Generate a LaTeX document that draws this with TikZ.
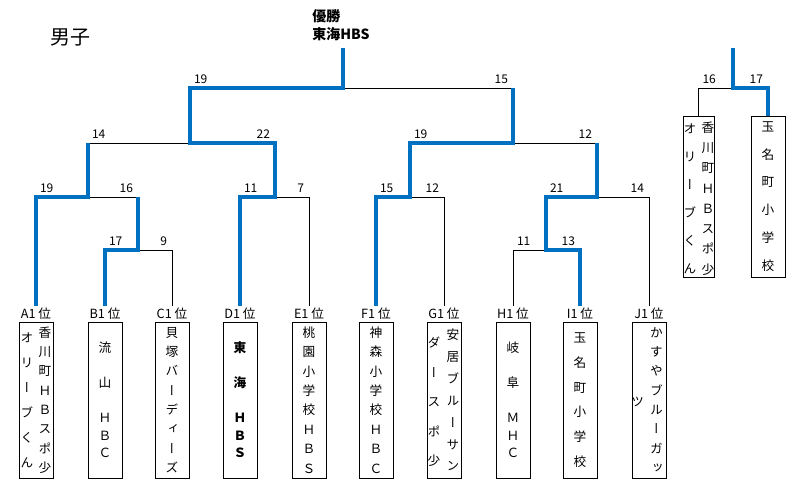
\documentclass[tikz,border=0pt]{standalone}
\usepackage{fontspec}
\setmainfont{Noto Sans CJK JP}
\newfontfamily\tatefont[RawFeature=+vert]{Noto Sans CJK JP}
\usetikzlibrary{positioning}

\definecolor{winblue}{RGB}{0,112,192}

\tikzset{
  win/.style={draw=winblue,line width=2.4pt},
  lose/.style={draw=black,line width=0.75pt},
  team/.style={draw,line width=0.75pt,inner sep=0pt,
    minimum width=25.5pt,minimum height=117pt},
  seed/.style={font=\fontsize{9.5}{9.5}\selectfont,inner sep=1pt},
  score/.style={font=\fontsize{9}{9}\selectfont,inner sep=1pt,yshift=2pt},
  lsc/.style={score,anchor=south west,xshift=1.8pt},
  rsc/.style={score,anchor=south east,xshift=-2.6pt},
  tate/.style={font=\tatefont\fontsize{9.5}{#1}\selectfont,
    align=center,inner sep=0pt},
  boldtate/.style={tate=#1,font=\tatefont\bfseries\fontsize{9.5}{#1}\selectfont}
}

\begin{document}
\begin{tikzpicture}[x=0.75pt,y=-0.75pt]
\useasboundingbox (0,0) rectangle (800,490);

% title and champion
\node (title) at (70,37) [font=\fontsize{15}{15}\selectfont] {男子};
\node (champ) at (312,25) [anchor=west,align=left,inner sep=0pt,
   font=\bfseries\fontsize{10.5}{13.5}\selectfont] {優勝\\東海HBS};

% team boxes
\node (A) at (36,400) [team] {};
\node at ([xshift=6.75pt]A.center) [tate=14.5]
   {香\\川\\町\\Ｈ\\Ｂ\\ス\\ポ\\少};
\node at ([xshift=-6.75pt]A.center) [tate=18.75]
   {オ\\リ\\ー\\ブ\\く\\ん};
\node (B) at (105,400) [team,tate=13.1] {流\\　\\山\\　\\Ｈ\\Ｂ\\Ｃ};
\node (C) at (172,400) [team,tate=14.5] {貝\\塚\\バ\\ー\\デ\\ィ\\ー\\ズ};
\node (D) at (240,400) [team,boldtate=13.1] {東\\　\\海\\　\\Ｈ\\Ｂ\\Ｓ};
\node (E) at (309,400) [team,tate=14.6] {桃\\園\\小\\学\\校\\Ｈ\\Ｂ\\Ｓ};
\node (F) at (376,400) [team,tate=14.6] {神\\森\\小\\学\\校\\Ｈ\\Ｂ\\Ｃ};
\node (G) at (444,400) [team] {};
\node at ([xshift=6.75pt]G.center) [tate=16.4]
   {安\\居\\ブ\\ル\\ー\\サ\\ン};
\node at ([xshift=-7.5pt,yshift=-1.5pt]G.center) [tate=22.2]
   {ダ\\ー\\ス\\ポ\\少};
\node (H) at (513,400) [team,tate=13.1] {岐\\　\\阜\\　\\Ｍ\\Ｈ\\Ｃ};
\node (I) at (580,400) [team,tate=18.5] {玉\\名\\町\\小\\学\\校};
\node (J) at (649,400) [team] {};
\node at ([xshift=5.5pt]J.center) [tate=14.5]
   {か\\す\\や\\ブ\\ル\\ー\\ガ\\ッ};
\node at ([xshift=-8.5pt,yshift=-1.5pt]J.center) [tate=14.5] {ツ};

% extra pair
\node (K) at (698.5,196.5) [team,minimum width=23.25pt,minimum height=120.75pt] {};
\node at ([xshift=7pt,yshift=-1.5pt]K.center) [tate=15.2]
   {香\\川\\町\\Ｈ\\Ｂ\\ス\\ポ\\少};
\node at ([xshift=-6.5pt,yshift=-1.5pt]K.center) [tate=21]
   {オ\\リ\\ー\\ブ\\く\\ん};
\node (L) at (768,196.5) [team,minimum height=120.75pt,tate=20.85]
   {玉\\名\\町\\小\\学\\校};

% seeds
\node (a1) [seed,above=0.5pt of A] {A1 位};
\node (b1) [seed,above=0.5pt of B] {B1 位};
\node (c1) [seed,above=0.5pt of C] {C1 位};
\node (d1) [seed,above=0.5pt of D] {D1 位};
\node (e1) [seed,above=0.5pt of E] {E1 位};
\node (f1) [seed,above=0.5pt of F] {F1 位};
\node (g1) [seed,above=0.5pt of G] {G1 位};
\node (h1) [seed,above=0.5pt of H] {H1 位};
\node (i1) [seed,above=0.5pt of I] {I1 位};
\node (j1) [seed,above=0.5pt of J] {J1 位};

% joins
\coordinate (BC) at (138,250);
\coordinate (HI) at (546,250);
\coordinate (ABC) at (88,197);
\coordinate (DE) at (275,197);
\coordinate (FG) at (410,197);
\coordinate (HIJ) at (597,197);
\coordinate (AE) at (190,143);
\coordinate (FJ) at (513,143);
\coordinate (fin) at (343,88);
\coordinate (top) at (343,48);
\coordinate (KL) at (733,88);
\coordinate (KLtop) at (733,48);

% losing lines
\draw[lose] (c1.north) |- (BC);
\draw[lose] (BC |- ABC) -- (ABC);
\draw[lose] (ABC |- AE) -- (AE);
\draw[lose] (e1.north) |- (DE);
\draw[lose] (g1.north) |- (FG);
\draw[lose] (h1.north) |- (HI);
\draw[lose] (j1.north) |- (HIJ);
\draw[lose] (HIJ |- FJ) -- (FJ);
\draw[lose] (FJ |- fin) -- (fin);
\draw[lose] (K.north) |- (KL);

% winning lines
\draw[win] (a1.north) |- (ABC) -- (ABC |- AE);
\draw[win] (b1.north) |- (BC) -- (BC |- ABC);
\draw[win] (d1.north) |- (DE) |- (AE) |- (fin) -- (top);
\draw[win] (f1.north) |- (FG) |- (FJ) -- (FJ |- fin);
\draw[win] (i1.north) |- (HI) |- (HIJ) -- (HIJ |- FJ);
\draw[win] (L.north) |- (KL) -- (KLtop);

% scores
\node[lsc] at (b1.north |- BC) {17};
\node[rsc] at (c1.north |- BC) {9};
\node[lsc] at (a1.north |- ABC) {19};
\node[rsc] at (BC |- ABC) {16};
\node[lsc] at (d1.north |- DE) {11};
\node[rsc] at (e1.north |- DE) {7};
\node[lsc] at (ABC |- AE) {14};
\node[rsc] at (DE |- AE) {22};
\node[lsc] at (AE |- fin) {19};
\node[rsc] at (FJ |- fin) {15};
\node[lsc] at (f1.north |- FG) {15};
\node[rsc] at (g1.north |- FG) {12};
\node[lsc] at (h1.north |- HI) {11};
\node[rsc] at (i1.north |- HI) {13};
\node[lsc] at (HI |- HIJ) {21};
\node[rsc] at (j1.north |- HIJ) {14};
\node[lsc] at (FG |- FJ) {19};
\node[rsc] at (HIJ |- FJ) {12};
\node[lsc] at (K.north |- KL) {16};
\node[rsc] at (L.north |- KL) {17};
\end{tikzpicture}
\end{document}
